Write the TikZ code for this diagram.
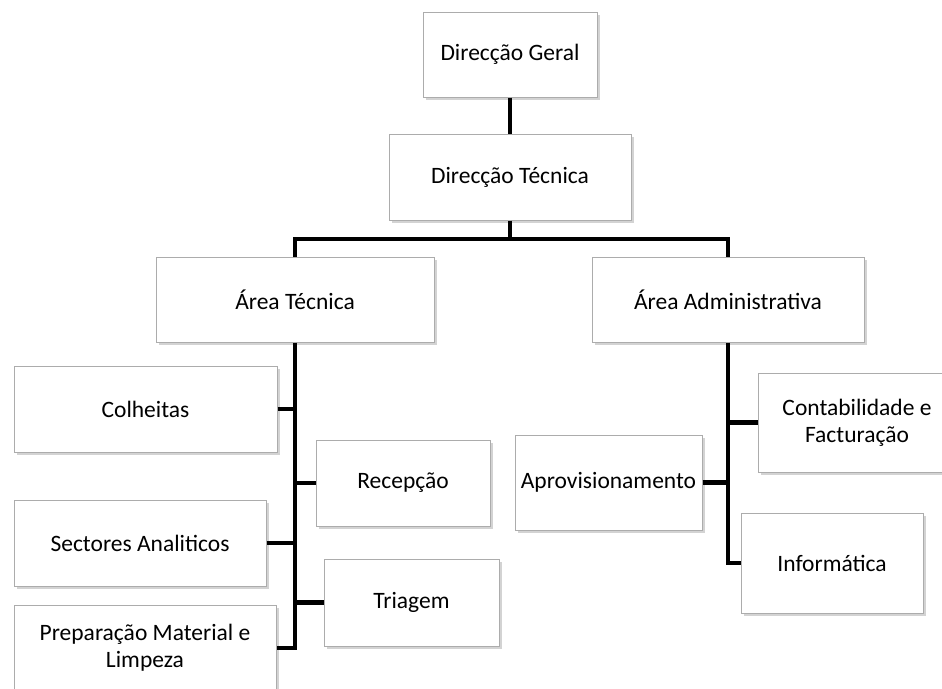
\documentclass[tikz,border=0pt]{standalone}
\usepackage{fontspec}
\setmainfont{Carlito}
\usetikzlibrary{shadows}

\tikzset{
  unit/.style={draw=gray!65, fill=white, line width=1pt, align=center, inner sep=2pt,
    font=\fontsize{23.5}{27}\selectfont,
    drop shadow={shadow xshift=2.5pt, shadow yshift=-2.5pt, opacity=0.35}},
  link/.style={line width=4.5pt, black}
}

\begin{document}
\begin{tikzpicture}[x=1pt,y=-1pt]
  \useasboundingbox (0,0) rectangle (942,688);
  \clip (0,0) rectangle (942,688);
  \node[unit, minimum width=174pt, minimum height=85pt] (geral) at (510,54.5) {Direcção Geral};
  \node[unit, minimum width=242pt, minimum height=86pt] (dtec) at (510,177) {Direcção Técnica};
  \node[unit, minimum width=278pt, minimum height=85pt] (atec) at (295,299.5) {Área Técnica};
  \node[unit, minimum width=272pt, minimum height=85pt] (aadm) at (728,299.5) {Área Administrativa};
  \node[unit, minimum width=263pt, minimum height=86pt] (colh) at (145.5,409) {Colheitas};
  \node[unit, minimum width=174pt, minimum height=86pt] (recep) at (403,483) {Recepção};
  \node[unit, minimum width=252pt, minimum height=86pt] (sect) at (140,543) {Sectores Analiticos};
  \node[unit, minimum width=175pt, minimum height=87pt] (triag) at (411.5,602.5) {Triagem};
  \node[unit, minimum width=262pt, minimum height=86pt] (prep) at (145,648) {Preparação Material e\\Limpeza};
  \node[unit, minimum width=198pt, minimum height=99pt] (contab) at (857,422.5) {Contabilidade e\\Facturação};
  \node[unit, minimum width=187pt, minimum height=95pt] (aprov) at (608.5,482.5) {Aprovisionamento};
  \node[unit, minimum width=182pt, minimum height=100pt] (inform) at (832,563) {Informática};
  \coordinate (bus) at (510,239);

  \draw[link] (geral) -- (dtec);
  \draw[link] (dtec.south) -- (bus) -| (atec.north);
  \draw[link] (bus) -| (aadm.north);
  \draw[link] (atec.south) |- (prep.east);
  \draw[link] (colh.east) -- (colh.east -| atec.south);
  \draw[link] (sect.east) -- (sect.east -| atec.south);
  \draw[link] (recep.west) -- (recep.west -| atec.south);
  \draw[link] (triag.west) -- (triag.west -| atec.south);
  \draw[link] (aadm.south) |- (inform.west);
  \draw[link] (contab.west) -- (contab.west -| aadm.south);
  \draw[link] (aprov.east) -- (aprov.east -| aadm.south);
\end{tikzpicture}
\end{document}
